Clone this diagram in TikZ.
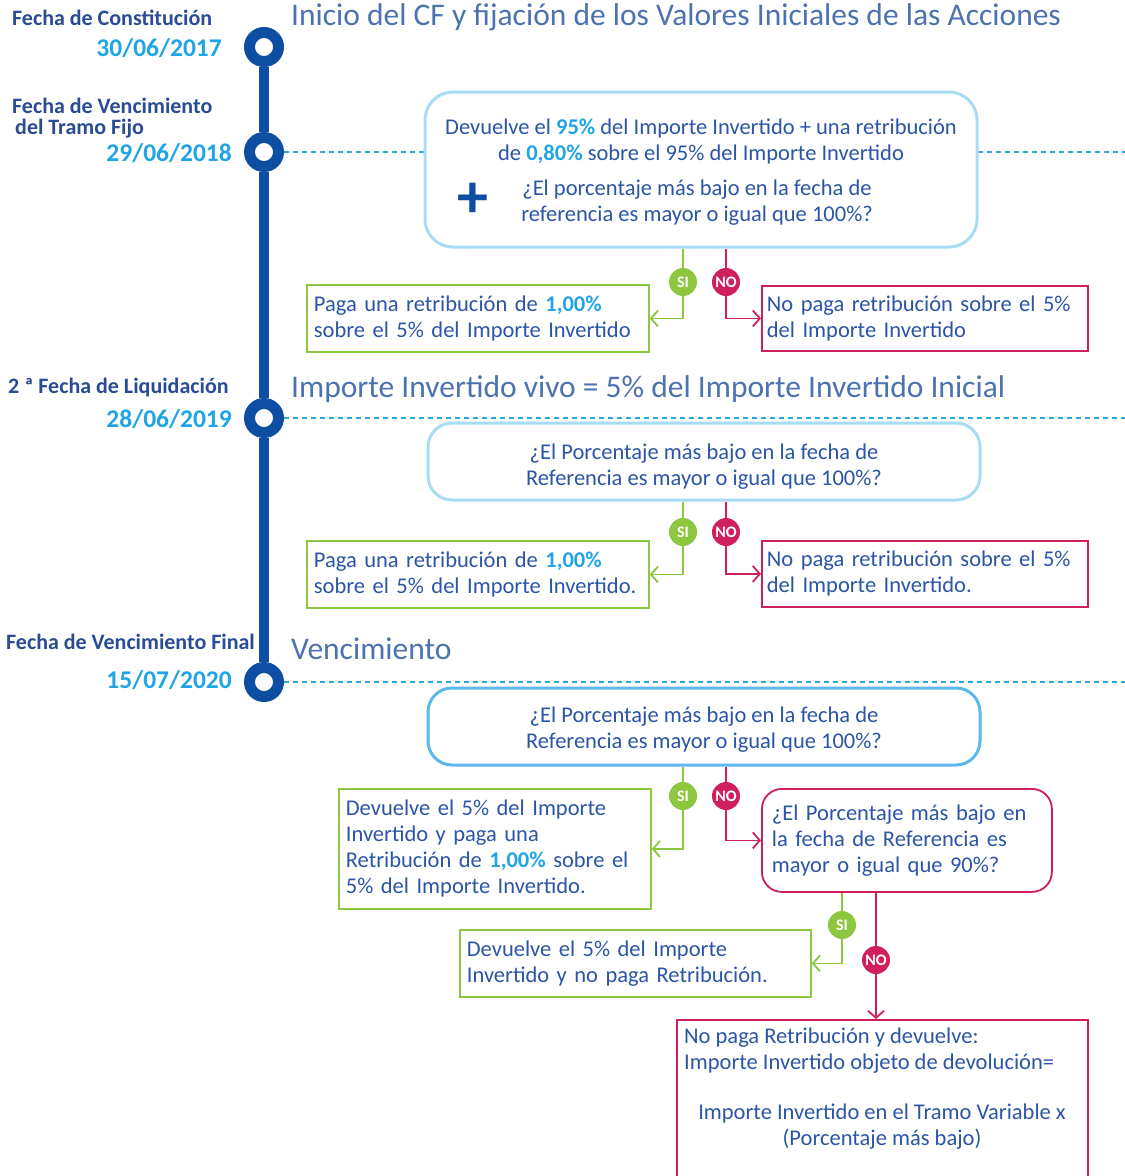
\documentclass[tikz,border=0pt]{standalone}
\usepackage{fontspec}
\setmainfont{Carlito}
\usetikzlibrary{arrows.meta}
\definecolor{tlblue}{HTML}{0D4EA3}
\definecolor{dateblue}{HTML}{1FA5E6}
\definecolor{txtblue}{HTML}{2B55A6}
\definecolor{lblblue}{HTML}{2A4C94}
\definecolor{titleblue}{HTML}{4D72B0}
\definecolor{boxblue}{HTML}{A9DCF4}
\definecolor{boxbluedk}{HTML}{5DB8EA}
\definecolor{dashblue}{HTML}{2AA6E0}
\definecolor{sigreen}{HTML}{8DC63F}
\definecolor{nored}{HTML}{D01F5F}
\newcommand{\bodyf}{\fontsize{22.5}{26}\selectfont}
\newcommand{\hl}[1]{\textbf{\textcolor{dateblue}{#1}}}
\begin{document}
\begin{tikzpicture}[x=1pt,y=-1pt,
  ring/.style={circle,draw=tlblue,line width=11pt,fill=white,minimum size=29pt,inner sep=0pt},
  lbl/.style={font=\fontsize{22}{26}\selectfont\bfseries,text=lblblue,inner sep=0pt},
  datel/.style={font=\fontsize{25.5}{28}\selectfont\bfseries,text=dateblue,inner sep=0pt,anchor=east},
  ttl/.style={font=\fontsize{31.5}{34}\selectfont,text=titleblue,inner sep=0pt,anchor=west},
  dashl/.style={draw=dashblue,line width=1.2pt,dash pattern=on 5pt off 4pt},
  qbox/.style={draw=boxblue,line width=3pt,rounded corners=28pt,fill=white,inner sep=0pt},
  btxt/.style={font=\bodyf,text=txtblue,inner sep=0pt,align=center},
  gbox/.style={draw=sigreen,line width=1.8pt,font=\bodyf,text=txtblue,align=left,inner ysep=3pt,anchor=north west},
  rbox/.style={draw=nored,line width=1.8pt,font=\bodyf,text=txtblue,align=left,inner ysep=3pt,anchor=north west},
  sic/.style={circle,fill=sigreen,text=white,minimum size=28pt,inner sep=0pt,font=\fontsize{16}{16}\selectfont\bfseries},
  noc/.style={circle,fill=nored,text=white,minimum size=28pt,inner sep=0pt,font=\fontsize{16}{16}\selectfont\bfseries},
  gline/.style={draw=sigreen,line width=1.8pt},
  rline/.style={draw=nored,line width=1.8pt},
  tip/.style={-{Straight Barb[length=7pt,width=16pt,line width=1.8pt]}}
]
\useasboundingbox (0,0) rectangle (1125,1176);
\fill[white] (0,0) rectangle (1125,1176);

% timeline
\node[ring] (c1) at (264,47) {};
\node[ring] (c2) at (264,152) {};
\node[ring] (c3) at (264,418) {};
\node[ring] (c4) at (264,682) {};
\draw[tlblue,line width=10pt] (c1.south) -- (c2.north) (c2.south) -- (c3.north) (c3.south) -- (c4.north);

% left labels
\node[lbl,anchor=west] (l1) at (12,18) {Fecha de Constitución};
\node[datel] (d1) at (222,48) {30/06/2017};
\node[lbl,anchor=west] (l2a) at (12,106) {Fecha de Vencimiento};
\node[lbl,anchor=west] (l2b) at (15,129) {del Tramo Fijo};
\node[datel] (d2) at (232,153) {29/06/2018};
\node[lbl,anchor=west] (l3) at (8,388) {2 ª Fecha de Liquidación};
\node[datel] (d3) at (232,419) {28/06/2019};
\node[lbl,anchor=west] (l4) at (6,642) {Fecha de Vencimiento Final};
\node[datel] (d4) at (232,680) {15/07/2020};

% titles
\node[ttl] (t1) at (291,17) {Inicio del CF y fijación de los Valores Iniciales de las Acciones};
\node[ttl] (t3) at (291,389) {Importe Invertido vivo = 5\% del Importe Invertido Inicial};
\node[ttl] (t4) at (291,649) {Vencimiento};

% dashed lines
\coordinate (e2a) at (425,152);
\coordinate (e2b) at (978,152);
\coordinate (e2c) at (1125,152);
\coordinate (e3) at (1125,418);
\coordinate (e4) at (1125,682);
\draw[dashl] (c2.east) -- (e2a) (e2b) -- (e2c);
\draw[dashl] (c3.east) -- (e3);
\draw[dashl] (c4.east) -- (e4);

% box 1
\node[qbox,minimum width=552pt,minimum height=155pt] (b1) at (701,169.5) {};
\node[btxt] (b1t) at (701,141) {Devuelve el \hl{95\%} del Importe Invertido + una retribución\\de \hl{0,80\%} sobre el 95\% del Importe Invertido};
\node[btxt] (b1q) at (697,203) {¿El porcentaje más bajo en la fecha de\\referencia es mayor o igual que 100\%?};
\node[text=tlblue,font=\fontsize{62}{62}\selectfont\bfseries,inner sep=0pt] (plus) at (473,200) {+};

% box 2
\node[qbox,rounded corners=24pt,minimum width=552pt,minimum height=77pt] (b2) at (704,461.5) {};
\node[btxt] at (704,467) {¿El Porcentaje más bajo en la fecha de\\Referencia es mayor o igual que 100\%?};

% box 3
\node[qbox,draw=boxbluedk,rounded corners=24pt,minimum width=552pt,minimum height=77pt] (b3) at (704,726.5) {};
\node[btxt] at (704,730) {¿El Porcentaje más bajo en la fecha de\\Referencia es mayor o igual que 100\%?};

% result boxes 1
\node[gbox,text width=328pt,inner xsep=7pt,minimum height=67pt] (g1) at (306,284) {Paga una retribución de \hl{1,00\%}\\sobre el 5\% del Importe Invertido};
\node[rbox,text width=316pt,inner xsep=5pt,minimum height=65pt] (r1) at (761,285) {No paga retribución sobre el 5\%\\del Importe Invertido};
\node[sic] (s1) at (683,282) {SI};
\node[noc] (n1) at (726,282) {NO};
\draw[gline] (b1.south -| s1) -- (s1);
\draw[rline] (b1.south -| n1) -- (n1);
\draw[gline,tip] (s1) |- (g1.east);
\draw[rline,tip] (n1) |- (r1.west);

% result boxes 2
\node[gbox,text width=328pt,inner xsep=7pt,minimum height=67pt] (g2) at (306,540) {Paga una retribución de \hl{1,00\%}\\sobre el 5\% del Importe Invertido.};
\node[rbox,text width=316pt,inner xsep=5pt,minimum height=66pt] (r2) at (761,540) {No paga retribución sobre el 5\%\\del Importe Invertido.};
\node[sic] (s2) at (683,532) {SI};
\node[noc] (n2) at (726,532) {NO};
\draw[gline] (b2.south -| s2) -- (s2);
\draw[rline] (b2.south -| n2) -- (n2);
\draw[gline,tip] (s2) |- (g2.east);
\draw[rline,tip] (n2) |- (r2.west);

% result boxes 3
\node[gbox,text width=298pt,inner xsep=7pt,minimum height=120pt] (g3) at (338,788) {Devuelve el 5\% del Importe\\Invertido y paga una\\Retribución de \hl{1,00\%} sobre el\\5\% del Importe Invertido.};
\node[rbox,rounded corners=20pt,text width=270pt,inner xsep=10pt,minimum height=103pt] (r3) at (761,788) {¿El Porcentaje más bajo en\\la fecha de Referencia es\\mayor o igual que 90\%?};
\node[sic] (s3) at (683,796) {SI};
\node[noc] (n3) at (726,796) {NO};
\draw[gline] (b3.south -| s3) -- (s3);
\draw[rline] (b3.south -| n3) -- (n3);
\draw[gline,tip] (s3) |- (g3.east);
\draw[rline,tip] (n3) |- (r3.west);

% result 4
\node[gbox,text width=337pt,inner xsep=7pt,minimum height=67pt] (g4) at (459,929) {Devuelve el 5\% del Importe\\Invertido y no paga Retribución.};
\node[sic] (s4) at (842,925) {SI};
\node[noc] (n4) at (876,960) {NO};
\draw[gline] (r3.south -| s4) -- (s4);
\draw[gline,tip] (s4) |- (g4.east);

% result 5
\node[draw=nored,line width=1.8pt,minimum width=411pt,minimum height=165pt,anchor=north west,inner sep=0pt] (r5) at (676,1019) {};
\node[btxt,align=left,anchor=north west] (r5a) at (684,1028) {No paga Retribución y devuelve:\\Importe Invertido objeto de devolución=};
\node[btxt,anchor=north] (r5b) at (882,1104) {Importe Invertido en el Tramo Variable x\\(Porcentaje más bajo)};
\draw[rline] (r3.south -| n4) -- (n4);
\draw[rline,tip] (n4) -- (r5.north -| n4);
\end{tikzpicture}
\end{document}
